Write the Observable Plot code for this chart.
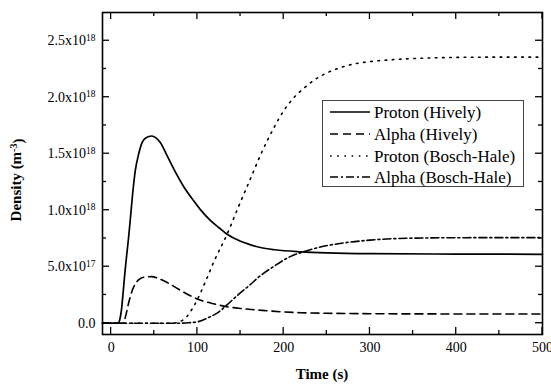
<!DOCTYPE html>
<html><head><meta charset="utf-8">
<script src="https://cdn.jsdelivr.net/npm/d3@7"></script>
<script src="https://cdn.jsdelivr.net/npm/@observablehq/plot@0.6"></script>
<style>
body{margin:0;background:#fff;}
#chart{width:551px;height:385px;}
</style></head><body><div id="chart"></div>
<script>
// ---- data (densities in units of 1e18 m^-3) ----
const seriesNames = ["Proton (Hively)", "Alpha (Hively)", "Proton (Bosch-Hale)", "Alpha (Bosch-Hale)"];

const tProtonHively = [-10, 0, 8, 10, 12, 14, 16, 18, 20, 22, 25, 28, 32, 36, 40, 47, 52, 57, 65, 75, 84, 95, 103, 115, 125, 134, 150, 161, 173, 190, 220, 250, 300, 400, 500];
const vProtonHively = [0, 0, 0, 0.03, 0.12, 0.28, 0.45, 0.6, 0.74, 0.9, 1.15, 1.35, 1.5, 1.6, 1.64, 1.657, 1.64, 1.6, 1.48, 1.33, 1.21, 1.09, 1.01, 0.91, 0.845, 0.79, 0.725, 0.695, 0.67, 0.65, 0.632, 0.622, 0.615, 0.612, 0.61];

const tAlphaHively = [-10, 0, 14, 16, 18, 20, 25, 30, 35, 40, 47, 55, 65, 76, 90, 103, 120, 134, 150, 173, 200, 220, 250, 300, 400, 500];
const vAlphaHively = [0, 0, 0, 0.04, 0.1, 0.17, 0.3, 0.37, 0.4, 0.41, 0.412, 0.395, 0.36, 0.31, 0.25, 0.205, 0.17, 0.146, 0.13, 0.115, 0.1, 0.093, 0.088, 0.084, 0.082, 0.082];

const tProtonBH = [-10, 0, 70, 80, 88, 95, 100, 110, 120, 134, 147, 161, 175, 188, 200, 211, 222, 235, 250, 265, 281, 300, 327, 360, 404, 450, 500];
const vProtonBH = [0, 0, 0, 0.015, 0.06, 0.14, 0.21, 0.38, 0.56, 0.78, 1.02, 1.27, 1.52, 1.72, 1.88, 1.99, 2.07, 2.15, 2.215, 2.26, 2.294, 2.315, 2.333, 2.345, 2.353, 2.355, 2.355];

const tAlphaBH = [-10, 0, 80, 90, 100, 115, 125, 134, 147, 161, 173, 190, 205, 222, 240, 269, 300, 327, 370, 420, 500];
const vAlphaBH = [0, 0, 0, 0.004, 0.012, 0.058, 0.1, 0.16, 0.25, 0.34, 0.42, 0.51, 0.58, 0.63, 0.67, 0.71, 0.735, 0.748, 0.755, 0.757, 0.757];

const xDomain = [-10, 500];
const yDomain = [-0.1e18, 2.75e18];
const xMajor = [0, 100, 200, 300, 400, 500];
const xMinor = [50, 150, 250, 350, 450];
const yMajor = [0, 0.5e18, 1.0e18, 1.5e18, 2.0e18, 2.5e18];
const yMajorMantissa = ["0.0", "5.0", "1.0", "1.5", "2.0", "2.5"];
const yMajorExponent = ["", "17", "18", "18", "18", "18"];
const yMinor = [0.25e18, 0.75e18, 1.25e18, 1.75e18, 2.25e18];
const xTitle = "Time (s)";
const yTitle = ["Density (m", "-3", ")"];

// ---- build tables ----
const SCALE = 1e18;
const mk = (ts, vs) => ts.map((t, i) => ({t, v: vs[i] * SCALE}));
const datasets = [
  mk(tProtonHively, vProtonHively),
  mk(tAlphaHively, vAlphaHively),
  mk(tProtonBH, vProtonBH),
  mk(tAlphaBH, vAlphaBH)
];

const styles = [
  {dash: null, width: 1.7},
  {dash: "8,5", width: 1.6},
  {dash: "1.6,5.6", width: 1.6},
  {dash: "8,3,2,3", width: 1.6}
];

const yFmt = d => {
  const i = yMajor.indexOf(d);
  if (i < 0) return "";
  return yMajorExponent[i] ? `${yMajorMantissa[i]}x10^${yMajorExponent[i]}` : yMajorMantissa[i];
};

const FONT = "'Liberation Serif', 'Times New Roman', serif";

const chart = Plot.plot({
  width: 551, height: 385,
  marginLeft: 102, marginRight: 9, marginTop: 12, marginBottom: 51,
  x: {domain: xDomain},
  y: {domain: yDomain},
  style: {fontFamily: FONT, fontSize: "14px", color: "#000", background: "#fff"},
  marks: [
    ...datasets.map((d, i) => Plot.line(d, {
      x: "t", y: "v", curve: "monotone-x",
      stroke: "#000", strokeWidth: styles[i].width,
      strokeDasharray: styles[i].dash || undefined
    })),
    Plot.axisX(xMajor, {anchor: "bottom", tickSize: 0, tickPadding: 8, tickFormat: d => String(d), label: null, fontSize: 14}),
    Plot.axisY(yMajor, {anchor: "left", tickSize: 0, tickPadding: 7, tickFormat: yFmt, label: null, fontSize: 14}),
    Plot.frame({stroke: "#000", strokeWidth: 1.6})
  ]
});

document.getElementById("chart").appendChild(chart);

const svg = d3.select(chart);

// superscripts in y tick labels
svg.selectAll('[aria-label="y-axis tick label"] text').each(function() {
  const el = d3.select(this);
  const s = el.text();
  if (s.includes("^")) {
    const [base, exp] = s.split("^");
    el.text("");
    el.append("tspan").text(base);
    el.append("tspan").attr("dy", "-0.45em").attr("font-size", "9.5px").text(exp);
  }
});

const xs = chart.scale("x"), ys = chart.scale("y");
const plotLeft = xs.apply(xDomain[0]), plotRight = xs.apply(xDomain[1]);
const plotBottom = ys.apply(yDomain[0]), plotTop = ys.apply(yDomain[1]);

// inward ticks on all four sides
const tg = svg.append("g").attr("stroke", "#000").attr("stroke-width", 1.3);
const addX = (vals, len) => vals.forEach(v => {
  const x = xs.apply(v);
  tg.append("line").attr("x1", x).attr("x2", x).attr("y1", plotBottom).attr("y2", plotBottom - len);
  tg.append("line").attr("x1", x).attr("x2", x).attr("y1", plotTop).attr("y2", plotTop + len);
});
const addY = (vals, len) => vals.forEach(v => {
  const y = ys.apply(v);
  tg.append("line").attr("y1", y).attr("y2", y).attr("x1", plotLeft).attr("x2", plotLeft + len);
  tg.append("line").attr("y1", y).attr("y2", y).attr("x1", plotRight).attr("x2", plotRight - len);
});
addX(xMajor, 7); addX(xMinor, 4);
addY(yMajor, 7); addY(yMinor, 4);

// axis titles
svg.append("text")
  .attr("x", (plotLeft + plotRight) / 2).attr("y", 379)
  .attr("text-anchor", "middle")
  .attr("font-family", FONT).attr("font-weight", "bold").attr("font-size", "15px")
  .attr("fill", "#000")
  .text(xTitle);

const yt = svg.append("text")
  .attr("transform", "translate(21,180) rotate(-90)")
  .attr("text-anchor", "middle")
  .attr("font-family", FONT).attr("font-weight", "bold").attr("font-size", "15px")
  .attr("fill", "#000");
yt.append("tspan").text(yTitle[0]);
yt.append("tspan").attr("dy", "-0.45em").attr("font-size", "10px").text(yTitle[1]);
yt.append("tspan").attr("dy", "0.45em").text(yTitle[2]);

// legend
const lg = svg.append("g");
const lx = 322.5, ly = 100.5, lw = 201, lh = 86;
lg.append("rect").attr("x", lx).attr("y", ly).attr("width", lw).attr("height", lh)
  .attr("fill", "#fff").attr("stroke", "#444").attr("stroke-width", 1);
const rowY = [112, 134, 156, 177];
seriesNames.forEach((name, i) => {
  const y = rowY[i];
  lg.append("line").attr("x1", 330).attr("x2", 370).attr("y1", y).attr("y2", y)
    .attr("stroke", "#000").attr("stroke-width", styles[i].width)
    .attr("stroke-dasharray", styles[i].dash);
  lg.append("text").attr("x", 374).attr("y", y).attr("dy", "0.35em")
    .attr("text-anchor", "start")
    .attr("font-family", FONT).attr("font-size", "17px").attr("fill", "#000")
    .text(name);
});
</script>
</body></html>
